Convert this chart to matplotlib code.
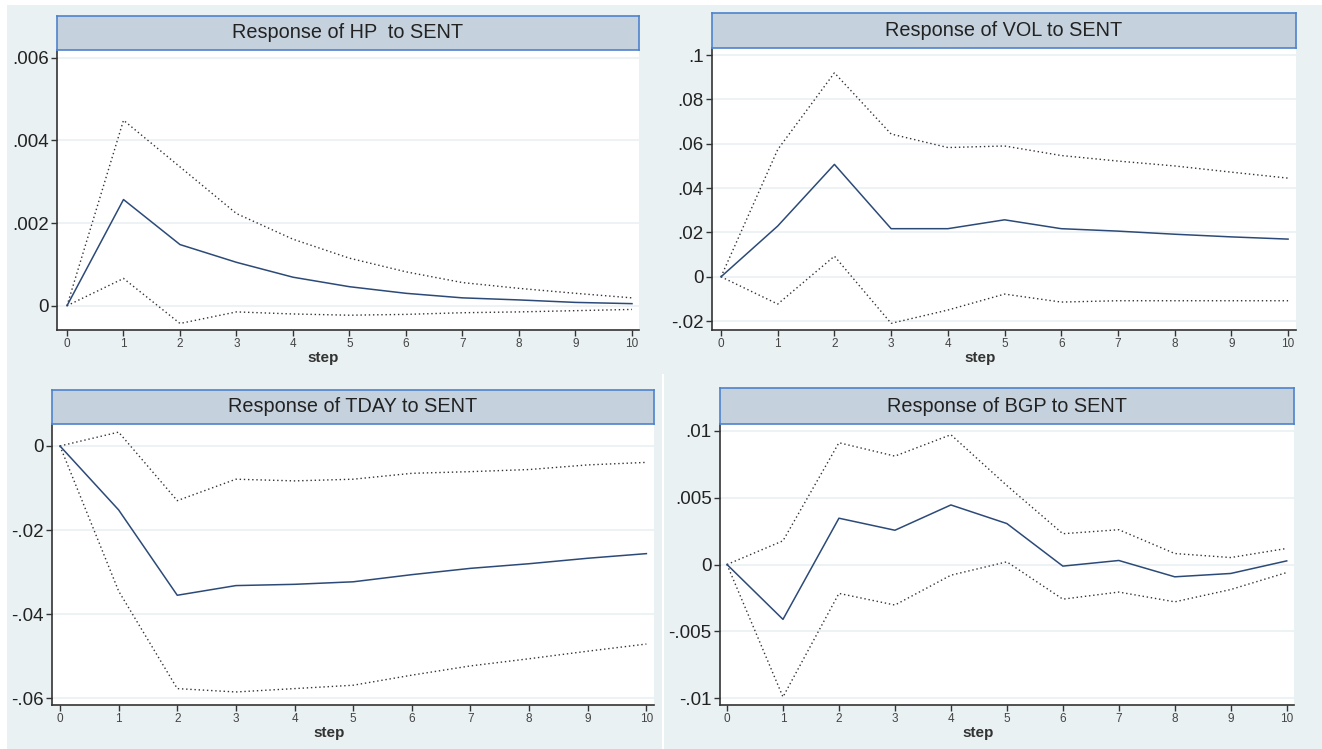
import numpy as np
import matplotlib.pyplot as plt
from matplotlib.patches import Rectangle

plt.rcParams['font.family'] = ['Liberation Sans', 'DejaVu Sans']

# pasos del horizonte
steps = np.arange(0, 11)

# HP
hp_irf = [0, 0.00257, 0.00148, 0.00105, 0.00069, 0.00046, 0.00030, 0.00019, 0.00014, 0.00008, 0.00005]
hp_hi = [0, 0.00449, 0.00336, 0.00223, 0.00161, 0.00115, 0.00082, 0.00056, 0.00042, 0.00030, 0.00019]
hp_lo = [0, 0.00066, -0.00043, -0.00015, -0.00020, -0.00023, -0.00021, -0.00017, -0.00015, -0.00012, -0.00009]

# VOL
vol_irf = [0, 0.0229, 0.0507, 0.0217, 0.0217, 0.0257, 0.0217, 0.0206, 0.0192, 0.0180, 0.0170]
vol_hi = [0, 0.0574, 0.0920, 0.0644, 0.0583, 0.0590, 0.0547, 0.0522, 0.0500, 0.0472, 0.0445]
vol_lo = [0, -0.0123, 0.0093, -0.0210, -0.0150, -0.0078, -0.0114, -0.0108, -0.0108, -0.0108, -0.0108]

# TDAY
tday_irf = [0, -0.0152, -0.0355, -0.0332, -0.0329, -0.0323, -0.0306, -0.0291, -0.0280, -0.0267, -0.0256]
tday_hi = [0, 0.0033, -0.0130, -0.0079, -0.0083, -0.0079, -0.0065, -0.0061, -0.0056, -0.0045, -0.0039]
tday_lo = [0, -0.0345, -0.0577, -0.0585, -0.0577, -0.0569, -0.0545, -0.0523, -0.0506, -0.0488, -0.0471]

# BGP
bgp_irf = [0, -0.0041, 0.00346, 0.00256, 0.00445, 0.00306, -0.00012, 0.00030, -0.00092, -0.00067, 0.00027]
bgp_hi = [0, 0.00177, 0.0091, 0.0081, 0.0097, 0.0059, 0.0023, 0.0026, 0.00082, 0.00052, 0.0012]
bgp_lo = [0, -0.0099, -0.00216, -0.00303, -0.0008, 0.0002, -0.00259, -0.00206, -0.00279, -0.00187, -0.0006]

titles = ["Response of HP  to SENT", "Response of VOL to SENT",
          "Response of TDAY to SENT", "Response of BGP to SENT"]
yticks_list = [[0, 0.002, 0.004, 0.006],
               [-0.02, 0, 0.02, 0.04, 0.06, 0.08, 0.1],
               [-0.06, -0.04, -0.02, 0],
               [-0.01, -0.005, 0, 0.005, 0.01]]
ytick_labels = [["0", ".002", ".004", ".006"],
                ["-.02", "0", ".02", ".04", ".06", ".08", ".1"],
                ["-.06", "-.04", "-.02", "0"],
                ["-.01", "-.005", "0", ".005", ".01"]]

BG = '#eaf1f3'
BAND = '#c5d2de'
BAND_EDGE = '#4f82cc'
NAVY = '#2c4a78'

W, H = 1322, 749
fig = plt.figure(figsize=(W / 100, H / 100), dpi=100, facecolor=BG)

# separadores blancos
fig.patches.append(Rectangle((0, 1 - 5 / H), 1, 5 / H, transform=fig.transFigure,
                             facecolor='white', edgecolor='none'))
fig.patches.append(Rectangle((0, 0), 7 / W, 1, transform=fig.transFigure,
                             facecolor='white', edgecolor='none'))
fig.patches.append(Rectangle((662 / W, 0), 2 / W, 375 / H, transform=fig.transFigure,
                             facecolor='white', edgecolor='none'))

# (izq, der, arriba_titulo, abajo_titulo, eje_x) en pixeles, xlim, ylim, centro de "step"
panels = [
    dict(box=(57, 639, 16, 50, 330), xlim=(-0.177, 10.124), ylim=(-0.000588, 0.00619),
         step_x=323, data=(hp_irf, hp_hi, hp_lo)),
    dict(box=(712, 1296, 13, 48, 330), xlim=(-0.159, 10.14), ylim=(-0.024, 0.1032),
         step_x=980, data=(vol_irf, vol_hi, vol_lo)),
    dict(box=(52, 654, 390, 424, 705), xlim=(-0.136, 10.13), ylim=(-0.0616, 0.00523),
         step_x=329, data=(tday_irf, tday_hi, tday_lo)),
    dict(box=(720, 1294, 388, 424, 705), xlim=(-0.125, 10.13), ylim=(-0.0105, 0.0105),
         step_x=978, data=(bgp_irf, bgp_hi, bgp_lo)),
]

for i, p in enumerate(panels):
    l, r, tt, tb, xb = p['box']
    ax = fig.add_axes([l / W, 1 - xb / H, (r - l) / W, (xb - tb) / H])
    ax.set_facecolor('white')
    irf, hi, lo = p['data']
    ax.plot(steps, hi, color='#333333', lw=1, linestyle=(0, (1, 2)))
    ax.plot(steps, lo, color='#333333', lw=1, linestyle=(0, (1, 2)))
    ax.plot(steps, irf, color=NAVY, lw=1.1)
    ax.set_xlim(*p['xlim'])
    ax.set_ylim(*p['ylim'])
    ax.set_xticks(steps)
    ax.set_xticklabels([str(s) for s in steps], fontsize=8.5, color='#444444')
    ax.set_yticks(yticks_list[i])
    ax.set_yticklabels(ytick_labels[i], fontsize=13.5, color='#222222')
    ax.grid(axis='y', color=BG, lw=1.2)
    ax.set_axisbelow(True)
    for s in ['top', 'right']:
        ax.spines[s].set_visible(False)
    for s in ['left', 'bottom']:
        ax.spines[s].set_color('#333333')
        ax.spines[s].set_linewidth(1.2)
    ax.tick_params(axis='both', length=4, width=1, color='#333333', pad=2)
    # titulo del eje x centrado en toda la grafica (como Stata)
    fig.text(p['step_x'] / W, 1 - (xb + 28) / H, 'step', ha='center', va='center',
             fontsize=11, fontweight='bold', color='#333333')

    # banda del titulo
    tax = fig.add_axes([l / W, 1 - tb / H, (r - l) / W, (tb - tt) / H])
    tax.set_xticks([])
    tax.set_yticks([])
    tax.set_facecolor(BAND)
    for s in tax.spines.values():
        s.set_color(BAND_EDGE)
        s.set_linewidth(1.2)
    tax.text(0.5, 0.5, titles[i], ha='center', va='center', fontsize=14.3,
             color='#222222', transform=tax.transAxes)

fig.savefig('out.png', dpi=100, facecolor=BG)
